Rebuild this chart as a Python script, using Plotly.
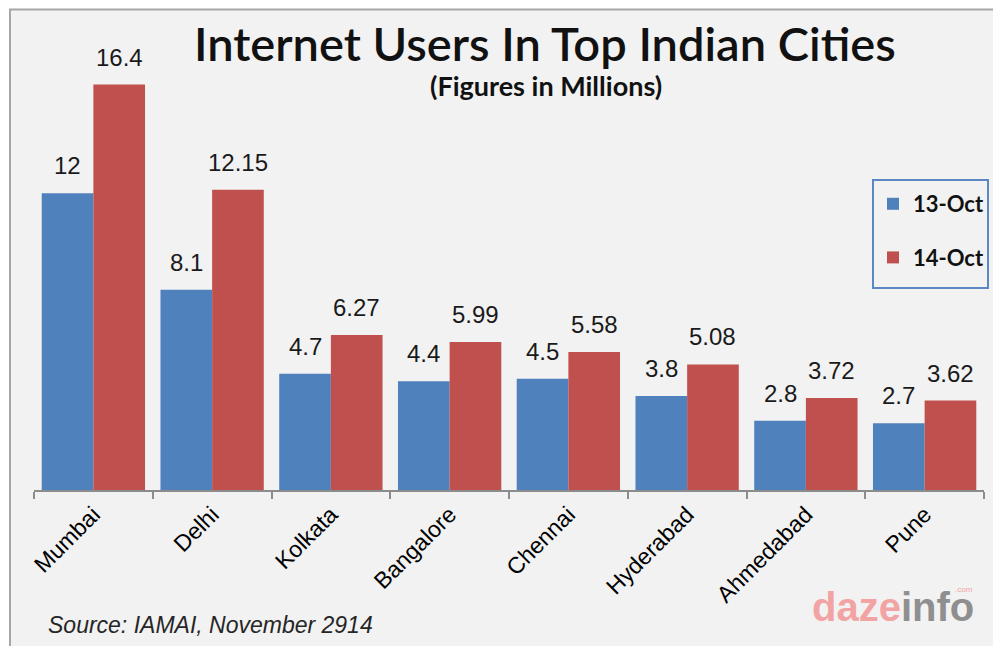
import plotly.graph_objects as go

# Internet users (millions) in the top Indian cities
cities = ["Mumbai", "Delhi", "Kolkata", "Bangalore", "Chennai",
          "Hyderabad", "Ahmedabad", "Pune"]
users_oct13 = [12, 8.1, 4.7, 4.4, 4.5, 3.8, 2.8, 2.7]
users_oct14 = [16.4, 12.15, 6.27, 5.99, 5.58, 5.08, 3.72, 3.62]
series_names = ["13-Oct", "14-Oct"]

W, H = 993, 646
ML, MR, MT, MB = 34, 9, 45, 156
YMAX = 18
plot_w = W - ML - MR
plot_h = H - MT - MB


def px_x(p):
    """pixel column -> paper x"""
    return (p - ML) / plot_w


def px_y(p):
    """pixel row -> paper y"""
    return (H - MB - p) / plot_h


BLUE = "#4f81bd"
RED = "#c0504d"
BG = "#f2f2f2"
BAR_GAP = 0.13
LABEL_FONT = "Liberation Sans, Arial, sans-serif"
HEAD_FONT = "Lato, Open Sans, sans-serif"

fig = go.Figure()
series = [users_oct13, users_oct14]
colors = [BLUE, RED]
for name, vals, col in zip(series_names, series, colors):
    fig.add_trace(go.Bar(
        x=cities, y=vals, name=name, legendgroup=name,
        marker=dict(color=col, line=dict(width=0)),
        hoverinfo="skip",
    ))

# value labels above each bar
cat_w = plot_w / len(cities)
bar_w = cat_w * (1 - BAR_GAP) / 2
for k, vals in enumerate(series):
    shift = (k - 0.5) * bar_w
    for c, v in zip(cities, vals):
        fig.add_annotation(
            x=c, y=v, xref="x", yref="y", text=f"{v:g}", showarrow=False,
            xshift=shift, yanchor="bottom", yshift=12,
            font=dict(family=LABEL_FONT, size=24, color="#1a1a1a"),
        )

# framed panel behind the chart
fig.add_shape(
    type="rect", xref="paper", yref="paper", layer="below",
    x0=px_x(10), x1=px_x(1100), y0=px_y(900), y1=px_y(9.5),
    fillcolor=BG, line=dict(color="#a6a6a6", width=2),
)
# legend box
fig.add_shape(
    type="rect", xref="paper", yref="paper", layer="below",
    x0=px_x(873), x1=px_x(988), y0=px_y(288), y1=px_y(180),
    fillcolor=BG, line=dict(color="#5b87c5", width=2),
)

# headings
fig.add_annotation(
    x=px_x(545), y=px_y(43), xref="paper", yref="paper", showarrow=False,
    xanchor="center", yanchor="middle",
    text="Internet Users In Top Indian Cities",
    font=dict(family=HEAD_FONT, size=47, color="#111111", weight=600),
)
fig.add_annotation(
    x=px_x(546), y=px_y(85), xref="paper", yref="paper", showarrow=False,
    xanchor="center", yanchor="middle",
    text="(Figures in Millions)",
    font=dict(family=HEAD_FONT, size=27, color="#111111", weight=700),
)

# source note
fig.add_annotation(
    x=px_x(46), y=px_y(625), xref="paper", yref="paper", showarrow=False,
    xanchor="left", yanchor="middle",
    text="Source: IAMAI, November 2914",
    font=dict(family=LABEL_FONT, size=23, color="#262626", style="italic"),
)

# publisher mark
fig.add_annotation(
    x=px_x(810), y=px_y(607), xref="paper", yref="paper", showarrow=False,
    xanchor="left", yanchor="middle",
    text=("<span style='color:#f2a3a3'>daze</span>"
          "<span style='color:#8f8f8f'>info</span>"),
    font=dict(family=LABEL_FONT, size=40, weight=700),
)
fig.add_annotation(
    x=px_x(964), y=px_y(589), xref="paper", yref="paper", showarrow=False,
    xanchor="center", yanchor="middle", text=".com",
    font=dict(family=LABEL_FONT, size=8, color="#f2a3a3"),
)

fig.update_layout(
    width=W, height=H,
    margin=dict(l=ML, r=MR, t=MT, b=MB, pad=0, autoexpand=False),
    paper_bgcolor="white",
    plot_bgcolor="rgba(0,0,0,0)",
    barmode="group", bargap=BAR_GAP, bargroupgap=0,
    showlegend=True,
    legend=dict(
        x=px_x(873), y=px_y(183), xanchor="left", yanchor="top",
        bgcolor="rgba(0,0,0,0)", borderwidth=0,
        font=dict(family=HEAD_FONT, size=22, color="#111111", weight=700),
        traceorder="grouped", tracegroupgap=22,
    ),
    xaxis=dict(
        type="category", showgrid=False, zeroline=False,
        showline=True, linecolor="#8c8c8c", linewidth=2,
        ticks="outside", tickson="boundaries", ticklen=7, tickwidth=1.5,
        tickcolor="#8c8c8c", tickangle=-45,
        tickfont=dict(family=LABEL_FONT, size=23, color="#000000"),
        fixedrange=True,
    ),
    yaxis=dict(visible=False, range=[0, YMAX], showgrid=False,
               zeroline=False, fixedrange=True),
)

fig.write_html("out.html")
